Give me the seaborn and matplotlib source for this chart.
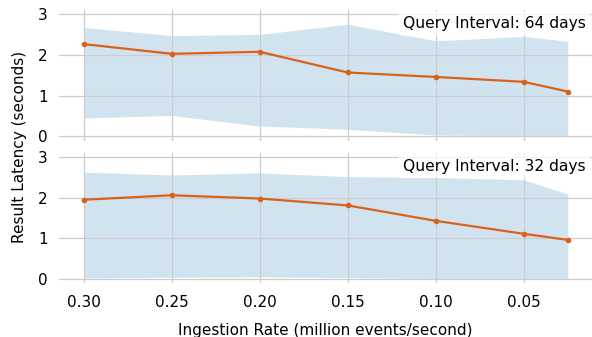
import numpy as np
import pandas as pd
import matplotlib
matplotlib.use("Agg")
import matplotlib.pyplot as plt
import seaborn as sns

sns.set_style("whitegrid")
plt.rcParams['font.family'] = ['DejaVu Sans']
plt.rcParams['text.color'] = 'black'
plt.rcParams['xtick.color'] = 'black'
plt.rcParams['ytick.color'] = 'black'
plt.rcParams['axes.labelcolor'] = 'black'

# Datos
rates = [0.30, 0.25, 0.20, 0.15, 0.10, 0.05, 0.025]

lat_64 = [2.27, 2.03, 2.08, 1.57, 1.46, 1.34, 1.10]
low_64 = [0.45, 0.51, 0.25, 0.17, 0.03, 0.01, 0.00]
high_64 = [2.68, 2.48, 2.51, 2.76, 2.35, 2.46, 2.34]

lat_32 = [1.95, 2.06, 1.98, 1.81, 1.43, 1.11, 0.96]
low_32 = [0.02, 0.04, 0.05, 0.03, 0.01, 0.00, 0.00]
high_32 = [2.63, 2.56, 2.61, 2.52, 2.50, 2.44, 2.09]

panels = [("Query Interval: 64 days", lat_64, low_64, high_64),
          ("Query Interval: 32 days", lat_32, low_32, high_32)]

line_color = "#d9621a"
band_color = "tab:blue"

fig, axes = plt.subplots(2, 1, figsize=(5.92, 3.37), dpi=100, sharex=True)
fig.subplots_adjust(left=0.1005, right=1.0, top=0.9703, bottom=0.1593, hspace=0.092)

for ax, (label, lat, low, high) in zip(axes, panels):
    ax.fill_between(rates, low, high, color=band_color, alpha=0.2, linewidth=0, zorder=1)
    df = pd.DataFrame({'rate': rates, 'lat': lat})
    sns.lineplot(data=df, x='rate', y='lat', ax=ax, color=line_color, linewidth=1.6,
                 marker='o', markersize=4, markeredgewidth=0, zorder=3)
    ax.set_ylim(-0.11, 3.11)
    ax.set_yticks([0, 1, 2, 3])
    ax.set_xticks([0.30, 0.25, 0.20, 0.15, 0.10, 0.05])
    ax.grid(True, color='#cccccc', linewidth=0.9)
    ax.set_axisbelow(False)
    ax.set_ylabel('')
    ax.set_xlabel('')
    for s in ax.spines.values():
        s.set_visible(False)
    ax.tick_params(axis='y', labelsize=11, length=0, pad=8.5)
    ax.tick_params(axis='x', labelsize=11, length=0, pad=8.5)
    ax.text(0.988, 0.955, label, transform=ax.transAxes, ha='right', va='top', fontsize=11.2,
            bbox=dict(facecolor='white', alpha=0.8, edgecolor='none', boxstyle='round,pad=0.3'),
            zorder=5)

axes[0].invert_xaxis()
axes[1].set_xticklabels(['0.30', '0.25', '0.20', '0.15', '0.10', '0.05'])
axes[1].set_xlabel('Ingestion Rate (million events/second)', fontsize=11, labelpad=9)
fig.supylabel('Result Latency (seconds)', fontsize=11, x=0.02, y=0.565)

plt.savefig('out.png', dpi=100)
plt.close()
